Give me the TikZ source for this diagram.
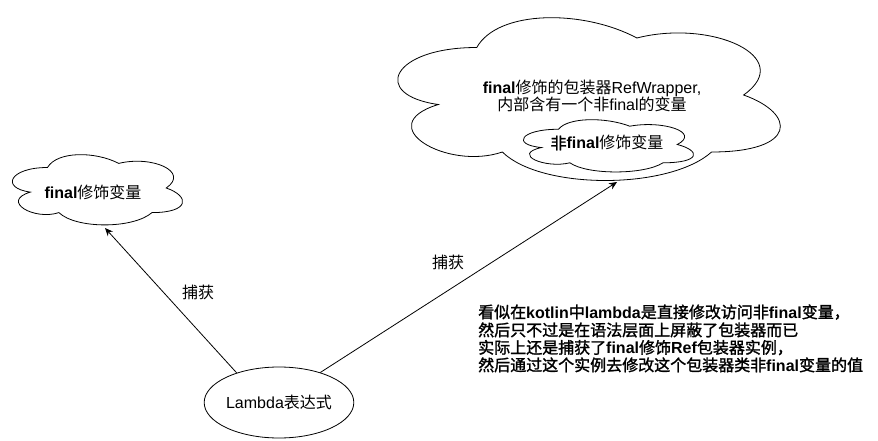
\documentclass[tikz,border=0pt]{standalone}
\usepackage{fontspec}
\setmainfont{Liberation Sans}
\newfontfamily\cjk{Noto Sans CJK SC}[BoldFont={Noto Sans CJK SC},BoldFeatures={FakeBold=1.5}]
\newcommand\zhtxt[1]{{\cjk #1}}
\usetikzlibrary{shapes.geometric,arrows.meta}
\tikzset{
  lbl/.style={inner sep=0,anchor=base,font=\fontsize{16}{18}\selectfont},
  blk/.style={inner sep=0,anchor=base west,font=\fontsize{16}{18}\selectfont\bfseries},
  conn/.style={draw=black,line width=0.8pt,-{Stealth[length=8pt,width=7pt]}},
  cloudline/.style={draw=black,line width=0.8pt,fill=white},
  lamnode/.style={draw=black,ellipse,line width=0.8pt,minimum width=114pt,minimum height=71pt,inner sep=0,font=\fontsize{16}{18}\selectfont},
}
\newcommand\mxcloud[4]{%
 \draw[cloudline] ({#1+0.25*#3},{#2+0.25*#4})
   .. controls ({#1+0.05*#3},{#2+0.25*#4}) and ({#1},{#2+0.5*#4}) .. ({#1+0.16*#3},{#2+0.55*#4})
   .. controls ({#1},{#2+0.66*#4}) and ({#1+0.18*#3},{#2+0.9*#4}) .. ({#1+0.31*#3},{#2+0.8*#4})
   .. controls ({#1+0.4*#3},{#2+#4}) and ({#1+0.7*#3},{#2+#4}) .. ({#1+0.8*#3},{#2+0.8*#4})
   .. controls ({#1+#3},{#2+0.8*#4}) and ({#1+#3},{#2+0.6*#4}) .. ({#1+0.875*#3},{#2+0.5*#4})
   .. controls ({#1+#3},{#2+0.3*#4}) and ({#1+0.8*#3},{#2+0.1*#4}) .. ({#1+0.625*#3},{#2+0.2*#4})
   .. controls ({#1+0.5*#3},{#2+0.05*#4}) and ({#1+0.3*#3},{#2+0.05*#4}) .. ({#1+0.25*#3},{#2+0.25*#4}) -- cycle;}
\begin{document}
\begin{tikzpicture}[x=1pt,y=-1pt]
\fill[white] (0,0) rectangle (878,441);
\useasboundingbox (0,0) rectangle (878,441);
% clouds
\mxcloud{0}{147}{190}{82}
\mxcloud{370}{0}{427}{190}
\mxcloud{511}{114}{190}{61}
% cloud texts
\node[lbl] (t1) at (93,198) {\textbf{final}\zhtxt{修饰变量}};
\node[lbl] (t2a) at (592,94) {\textbf{final}\zhtxt{修饰的包装器}RefWrapper,};
\node[lbl] (t2b) at (592,111) {\zhtxt{内部含有一个非}final\zhtxt{的变量}};
\node[lbl] (t3) at (607,149) {\textbf{\zhtxt{非}final}\zhtxt{修饰变量}};
% lambda
\node[lamnode] (lam) at (279,402.5) {Lambda\zhtxt{表达式}};
\coordinate (tipL) at (105,228);
\coordinate (tipR) at (617,182);
\draw[conn] (lam.145) -- (tipL);
\draw[conn] (lam.36) -- (tipR);
\node[lbl] (capL) at (198,298) {\zhtxt{捕获}};
\node[lbl] (capR) at (448,268) {\zhtxt{捕获}};
% block text
\node[blk] (b1) at (478,318) {\zhtxt{看似在}kotlin\zhtxt{中}lambda\zhtxt{是直接修改访问非}final\zhtxt{变量，}};
\node[blk] (b2) at (478,336) {\zhtxt{然后只不过是在语法层面上屏蔽了包装器而已}};
\node[blk] (b3) at (478,353.5) {\zhtxt{实际上还是捕获了}final\zhtxt{修饰}Ref\zhtxt{包装器实例，}};
\node[blk] (b4) at (478,371) {\zhtxt{然后通过这个实例去修改这个包装器类非}final\zhtxt{变量的值}};
\end{tikzpicture}
\end{document}
